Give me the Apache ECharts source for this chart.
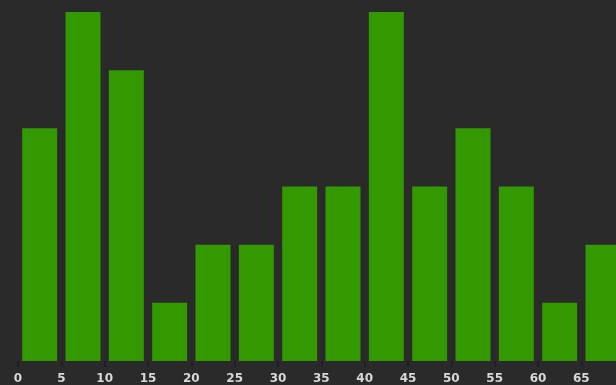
<!DOCTYPE html>
<html>
<head>
<meta charset="utf-8">
<script src="https://cdn.jsdelivr.net/npm/echarts@6/dist/echarts.min.js"></script>
<style>
  html, body { margin: 0; padding: 0; background: #2b2a2b; }
  #chart { width: 616px; height: 385px; }
</style>
</head>
<body>
<div id="chart"></div>
<script>
// bin start of each bar (width 5) and the height
var binStarts = [0, 5, 10, 15, 20, 25, 30, 35, 40, 45, 50, 55, 60, 65];
var counts = [4, 6, 5, 1, 2, 2, 3, 3, 6, 3, 4, 3, 1, 2];
var binWidth = 5;

var chart = echarts.init(document.getElementById('chart'));

var barData = binStarts.map(function (s, i) {
    return [s + binWidth / 2, counts[i]];
});

var option = {
    backgroundColor: '#2b2a2b',
    animation: false,
    grid: {
        left: 18, right: 0, top: 12, bottom: 23.5
    },
    xAxis: {
        type: 'value',
        min: 0,
        max: 69,
        interval: 5,
        splitLine: { show: false },
        axisLine: { show: false },
        axisTick: {
            show: true,
            length: 6,
            lineStyle: { color: '#231c2a', width: 2 }
        },
        axisLabel: {
            color: '#d8d8d8',
            fontSize: 12,
            fontWeight: 'bold',
            fontFamily: 'DejaVu Sans',
            margin: 12,
            showMaxLabel: false
        }
    },
    yAxis: {
        type: 'value',
        min: 0,
        max: 6,
        show: false
    },
    series: [
        {
            type: 'bar',
            barWidth: 35,
            itemStyle: { color: '#339900' },
            data: barData
        }
    ]
};

chart.setOption(option);
</script>
</body>
</html>
